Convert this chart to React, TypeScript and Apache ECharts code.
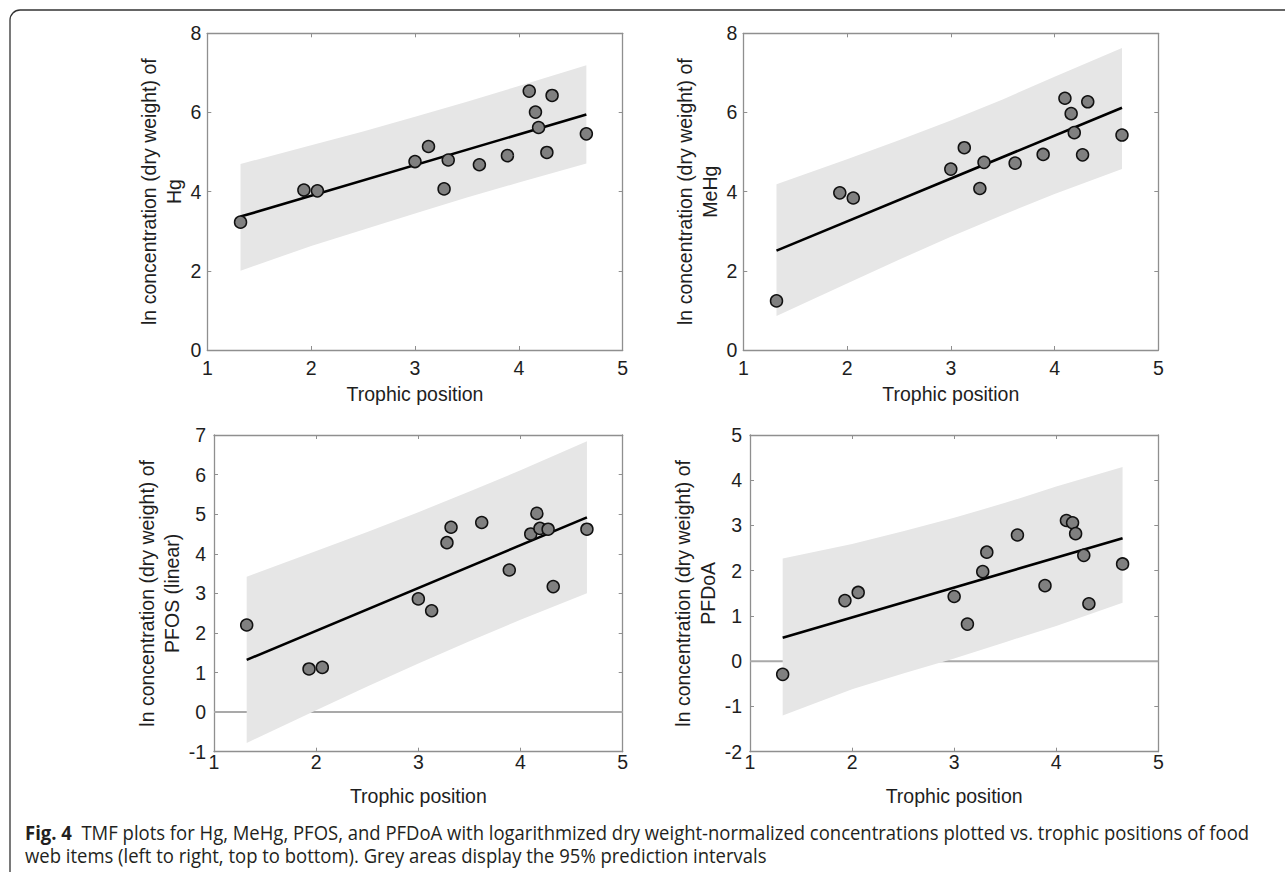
import React, { useEffect, useRef } from "react";
import * as echarts from "echarts";

// Trophic positions of food web items (shared x values)
const trophicPos = [1.32, 1.93, 2.06, 3.0, 3.13, 3.28, 3.32, 3.62, 3.89, 4.1, 4.16, 4.19, 4.27, 4.32, 4.65];

// ln concentrations (dry weight)
const hgValues = [3.23, 4.04, 4.02, 4.76, 5.14, 4.07, 4.8, 4.68, 4.91, 6.54, 6.01, 5.62, 4.99, 6.43, 5.46];
const mehgValues = [1.24, 3.97, 3.84, 4.57, 5.11, 4.08, 4.74, 4.72, 4.94, 6.36, 5.97, 5.49, 4.93, 6.27, 5.43];
const pfosValues = [2.2, 1.09, 1.13, 2.86, 2.56, 4.28, 4.67, 4.79, 3.59, 4.5, 5.02, 4.64, 4.62, 3.17, 4.62];
const pfdoaValues = [-0.29, 1.34, 1.52, 1.43, 0.82, 1.98, 2.41, 2.79, 1.67, 3.11, 3.06, 2.82, 2.34, 1.27, 2.15];

// Regression line end points
const fitX = [1.32, 4.65];
const hgFit = [3.37, 5.95];
const mehgFit = [2.51, 6.12];
const pfosFit = [1.32, 4.92];
const pfdoaFit = [0.52, 2.72];

// 95% prediction interval edges
const bandX = [1.32, 2, 2.5, 3, 3.5, 4, 4.65];
const hgUpper = [4.7, 5.17, 5.52, 5.89, 6.27, 6.67, 7.19];
const hgLower = [2.0, 2.63, 3.04, 3.45, 3.85, 4.23, 4.71];
const mehgUpper = [4.19, 4.82, 5.3, 5.8, 6.33, 6.9, 7.63];
const mehgLower = [0.86, 1.68, 2.28, 2.86, 3.41, 3.94, 4.57];
const pfosUpper = [3.42, 4.07, 4.55, 5.05, 5.57, 6.11, 6.84];
const pfosLower = [-0.78, 0.05, 0.65, 1.23, 1.79, 2.33, 3.0];
const pfdoaUpper = [2.27, 2.59, 2.87, 3.17, 3.5, 3.86, 4.29];
const pfdoaLower = [-1.2, -0.62, -0.27, 0.06, 0.42, 0.78, 1.29];

// Axis ranges
const xRange = [1, 5];
const yRanges = [
  [0, 8, 2],
  [0, 8, 2],
  [-1, 7, 1],
  [-2, 5, 1],
];
const yNames = [
  "ln concentration (dry weight) of\nHg",
  "ln concentration (dry weight) of\nMeHg",
  "ln concentration (dry weight) of\nPFOS (linear)",
  "ln concentration (dry weight) of\nPFDoA",
];
const xName = "Trophic position";
const captionBold = "Fig. 4";
const captionLine1 = "  TMF plots for Hg, MeHg, PFOS, and PFDoA with logarithmized dry weight-normalized concentrations plotted vs. trophic positions of food";
const captionLine2 = "web items (left to right, top to bottom). Grey areas display the 95% prediction intervals";

const FONT = "'Liberation Sans', Arial, Helvetica, sans-serif";
const CAP_FONT = "'Open Sans', 'Liberation Sans', sans-serif";
const AXIS_COLOR = "#8f8f8f";
const TEXT_COLOR = "#1e1e1e";
const FS = 19.5;

export default function App() {
  const ref = useRef<HTMLDivElement>(null);

  useEffect(() => {
    if (!ref.current) return;
    const chart = echarts.init(ref.current, undefined, { renderer: "svg" });

    const panels = [
      { vals: hgValues, fit: hgFit, up: hgUpper, lo: hgLower, zero: false },
      { vals: mehgValues, fit: mehgFit, up: mehgUpper, lo: mehgLower, zero: false },
      { vals: pfosValues, fit: pfosFit, up: pfosUpper, lo: pfosLower, zero: true },
      { vals: pfdoaValues, fit: pfdoaFit, up: pfdoaUpper, lo: pfdoaLower, zero: true },
    ];

    const grids = [
      { left: 207.3, top: 33.3, width: 415.4, height: 316.7 },
      { left: 743.3, top: 33.3, width: 415, height: 316.7 },
      { left: 214, top: 435, width: 408.7, height: 316.7 },
      { left: 750, top: 435, width: 408.3, height: 316.7 },
    ];
    const xLabelMargin = [18, 18, 10, 10];
    const yLabelMargin = [6, 6, 8, 8];
    const yNameGap = [42, 43, 43.5, 49.5];

    const xAxes: any[] = [];
    const yAxes: any[] = [];
    const series: any[] = [];

    panels.forEach((p, i) => {
      const [ymin, ymax, yint] = yRanges[i];
      const common = {
        gridIndex: i,
        type: "value",
        splitLine: { show: false },
        axisLine: { show: true, onZero: false, lineStyle: { color: AXIS_COLOR, width: 1.3 } },
        axisTick: { show: true, inside: true, length: 4, lineStyle: { color: AXIS_COLOR, width: 1 } },
      };
      xAxes.push({
        ...common,
        position: "bottom",
        min: xRange[0],
        max: xRange[1],
        interval: 1,
        axisLabel: {
          show: true,
          margin: xLabelMargin[i],
          verticalAlign: "middle",
          fontSize: FS,
          fontFamily: FONT,
          color: TEXT_COLOR,
        },
        name: xName,
        nameLocation: "middle",
        nameGap: 44,
        nameTextStyle: { fontSize: FS, fontFamily: FONT, color: TEXT_COLOR, verticalAlign: "middle" },
      });
      xAxes.push({
        ...common,
        position: "top",
        min: xRange[0],
        max: xRange[1],
        interval: 1,
        axisLabel: { show: false },
      });
      yAxes.push({
        ...common,
        position: "left",
        min: ymin,
        max: ymax,
        interval: yint,
        axisLabel: {
          show: true,
          margin: yLabelMargin[i],
          fontSize: FS,
          fontFamily: FONT,
          color: TEXT_COLOR,
        },
        name: yNames[i],
        nameLocation: "middle",
        nameRotate: 90,
        nameGap: yNameGap[i],
        nameTextStyle: {
          fontSize: FS,
          fontFamily: FONT,
          color: TEXT_COLOR,
          lineHeight: 25,
          align: "center",
          verticalAlign: "middle",
        },
      });
      yAxes.push({
        ...common,
        position: "right",
        min: ymin,
        max: ymax,
        interval: yint,
        axisLabel: { show: false },
      });

      const xi = i * 2;
      const yi = i * 2;

      if (p.zero) {
        series.push({
          type: "line",
          xAxisIndex: xi,
          yAxisIndex: yi,
          data: [
            [xRange[0], 0],
            [xRange[1], 0],
          ],
          showSymbol: false,
          symbol: "none",
          lineStyle: { color: "#a9a9a9", width: 2 },
          z: 1,
          silent: true,
        });
      }

      const poly: number[][] = [];
      bandX.forEach((x, k) => poly.push([x, p.up[k]]));
      for (let k = bandX.length - 1; k >= 0; k--) poly.push([bandX[k], p.lo[k]]);

      series.push({
        type: "custom",
        xAxisIndex: xi,
        yAxisIndex: yi,
        data: poly,
        z: 2,
        silent: true,
        renderItem: (params: any, api: any) => {
          if (params.dataIndex !== 0) return { type: "group", children: [] };
          const pts = poly.map((pt) => api.coord(pt));
          return {
            type: "polygon",
            shape: { points: pts },
            style: { fill: "#e6e6e6", stroke: "none" },
          };
        },
      });

      series.push({
        type: "line",
        xAxisIndex: xi,
        yAxisIndex: yi,
        data: fitX.map((x, k) => [x, p.fit[k]]),
        showSymbol: false,
        symbol: "none",
        lineStyle: { color: "#000000", width: 2.6 },
        z: 3,
        silent: true,
      });

      series.push({
        type: "scatter",
        xAxisIndex: xi,
        yAxisIndex: yi,
        data: trophicPos.map((x, k) => [x, p.vals[k]]),
        symbol: "circle",
        symbolSize: 12,
        itemStyle: { color: "#808080", borderColor: "#111111", borderWidth: 1.5, opacity: 1 },
        z: 4,
        silent: true,
      });
    });

    const option: any = {
      animation: false,
      backgroundColor: "#ffffff",
      grid: grids.map((g) => ({ ...g, containLabel: false })),
      xAxis: xAxes,
      yAxis: yAxes,
      series,
      graphic: [
        {
          type: "rect",
          shape: { x: 10, y: 10, width: 1400, height: 1000, r: [10, 0, 0, 0] },
          style: { fill: "none", stroke: "#333333", lineWidth: 1.3 },
          silent: true,
        },
        {
          type: "text",
          x: 25,
          y: 832,
          scaleX: 0.924,
          style: {
            text: "{b|" + captionBold + "}" + captionLine1,
            fontSize: 20,
            fontFamily: CAP_FONT,
            fill: "#231f20",
            verticalAlign: "middle",
            rich: {
              b: {
                fontWeight: "bold",
                fontSize: 20,
                fontFamily: CAP_FONT,
                fill: "#231f20",
              },
            },
          },
          silent: true,
        },
        {
          type: "text",
          x: 25,
          y: 855,
          scaleX: 0.924,
          style: {
            text: captionLine2,
            fontSize: 20,
            fontFamily: CAP_FONT,
            fill: "#231f20",
            verticalAlign: "middle",
          },
          silent: true,
        },
      ],
    };

    chart.setOption(option);
    return () => chart.dispose();
  }, []);

  return (
    <div
      ref={ref}
      style={{ position: "absolute", left: 0, top: 0, width: 1285, height: 872 }}
    />
  );
}
